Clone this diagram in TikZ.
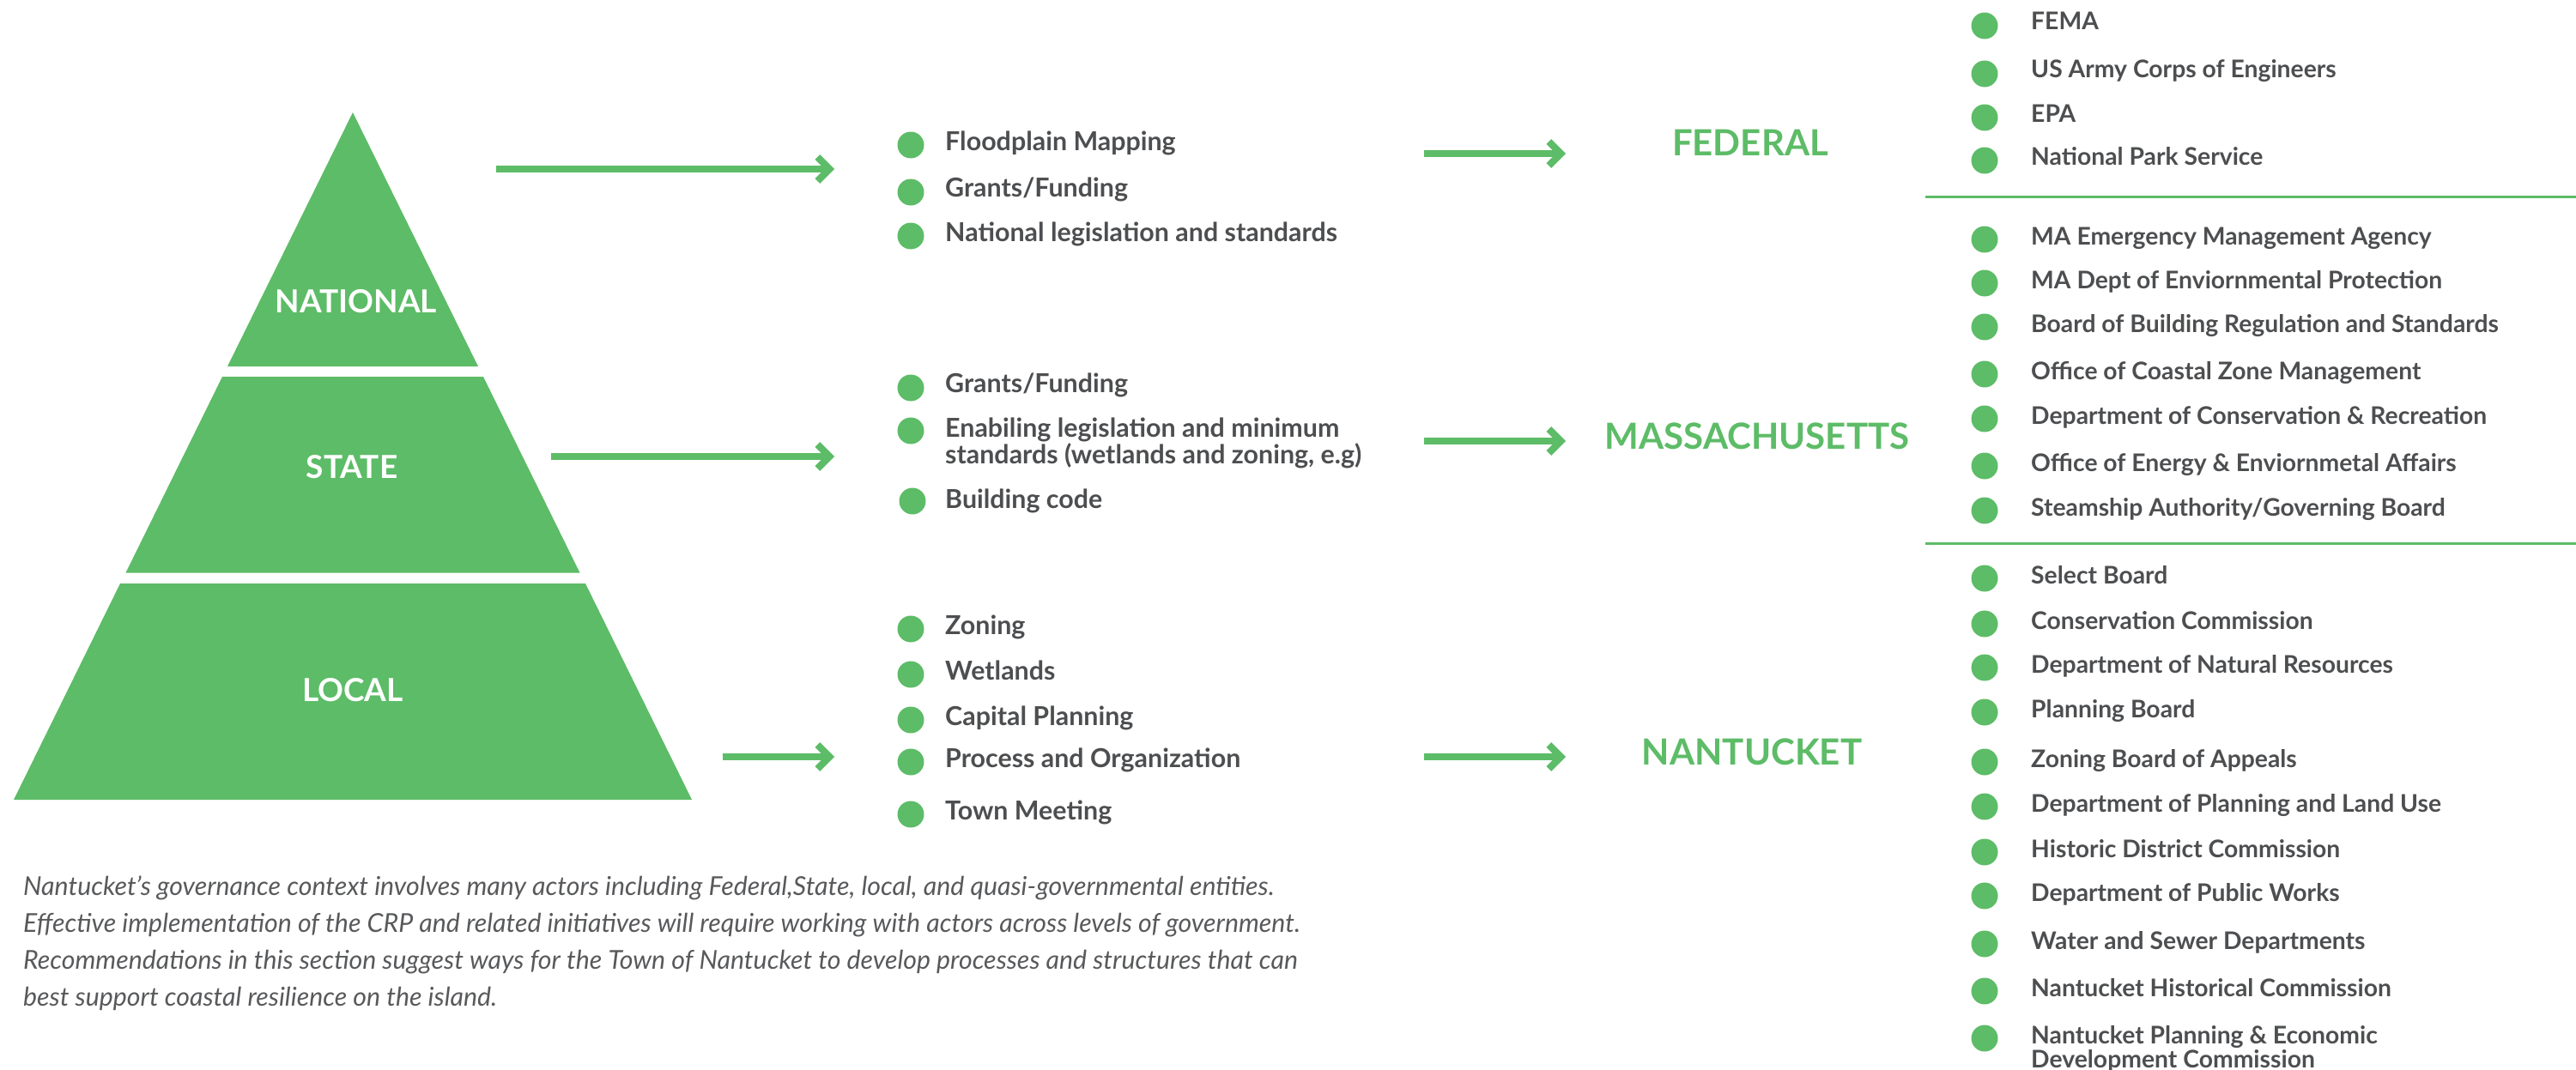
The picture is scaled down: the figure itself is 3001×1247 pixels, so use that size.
\documentclass[tikz,border=0pt]{standalone}
\usepackage{fontspec}
\setmainfont{Lato}
\usetikzlibrary{arrows.meta}
\definecolor{grn}{RGB}{93,188,103}
\definecolor{txt}{RGB}{77,78,80}
\definecolor{paratxt}{RGB}{88,89,91}
\begin{document}
\begin{tikzpicture}[x=1pt,y=-1pt,
  bul/.style={circle,fill=grn,minimum size=31pt,inner sep=0pt},
  litem/.style={anchor=base west,inner sep=0pt,text=txt,font=\fontsize{30.4}{28}\selectfont\bfseries,align=left},
  ritem/.style={anchor=base west,inner sep=0pt,text=txt,font=\fontsize{28.3}{28}\selectfont\bfseries,align=left},
  hdg/.style={anchor=base,text=grn,font=\fontsize{42}{42}\selectfont\bfseries,inner sep=0pt},
  lvl/.style={anchor=base,text=white,font=\fontsize{37}{37}\selectfont\bfseries,inner sep=0pt},
  arr/.style={draw=grn,line width=8pt,-{Straight Barb[length=14pt,width=28pt]}},
  sepline/.style={draw=grn,line width=3pt},
]
\path[use as bounding box] (0,0) rectangle (3001,1247);

% pyramid
\fill[grn] (411,131) -- (557,427) -- (265,427) -- cycle;
\fill[grn] (259,439) -- (563,439) -- (675.5,667.5) -- (146.5,667.5) -- cycle;
\fill[grn] (140,680) -- (682,680) -- (806,932) -- (16,932) -- cycle;
\node[lvl] (lnat) at (415,364) {NATIONAL};
\node[lvl] (lsta) at (410,557) {STATE};
\node[lvl] (lloc) at (411,817) {LOCAL};

% arrows from pyramid to lists
\coordinate (a1s) at (578,197);  \coordinate (a1e) at (972,197);
\coordinate (a2s) at (642,532);  \coordinate (a2e) at (972,532);
\coordinate (a3s) at (842,882);  \coordinate (a3e) at (972,882);
\draw[arr] (a1s) -- (a1e);
\draw[arr] (a2s) -- (a2e);
\draw[arr] (a3s) -- (a3e);

% arrows from lists to headings
\coordinate (b1s) at (1659,179); \coordinate (b1e) at (1824,179);
\coordinate (b2s) at (1659,514); \coordinate (b2e) at (1824,514);
\coordinate (b3s) at (1659,882); \coordinate (b3e) at (1824,882);
\draw[arr] (b1s) -- (b1e);
\draw[arr] (b2s) -- (b2e);
\draw[arr] (b3s) -- (b3e);

% headings
\node[hdg] (hfed) at (2039,181) {FEDERAL};
\node[hdg] (hma) at (2047,523) {MASSACHUSETTS};
\node[hdg] (hnan) at (2041,891) {NANTUCKET};

% left lists
\node[bul] (nb1) at (1061,169) {}; \node[litem] (nt1) at (1101,175) {Floodplain Mapping};
\node[bul] (nb2) at (1061,224) {}; \node[litem] (nt2) at (1101,229) {Grants/Funding};
\node[bul] (nb3) at (1061,275) {}; \node[litem] (nt3) at (1101,281) {National legislation and standards};

\node[bul] (sb1) at (1061,452) {}; \node[litem] (st1) at (1101,457) {Grants/Funding};
\node[bul] (sb2) at (1061,502) {}; \node[litem] (st2) at (1101,540) {Enabiling legislation and minimum\\standards (wetlands and zoning, e.g)};
\node[bul] (sb3) at (1063,584) {}; \node[litem] (st3) at (1101,592) {Building code};

\node[bul] (lb1) at (1061,733) {}; \node[litem] (lt1) at (1101,739) {Zoning};
\node[bul] (lb2) at (1061,786) {}; \node[litem] (lt2) at (1101,792) {Wetlands};
\node[bul] (lb3) at (1061,839) {}; \node[litem] (lt3) at (1101,845) {Capital Planning};
\node[bul] (lb4) at (1061,888) {}; \node[litem] (lt4) at (1101,894) {Process and Organization};
\node[bul] (lb5) at (1061,949) {}; \node[litem] (lt5) at (1101,955) {Town Meeting};

% right column
\node[bul] (fb1) at (2312,30) {};  \node[ritem] (ft1) at (2366,35) {FEMA};
\node[bul] (fb2) at (2312,86) {};  \node[ritem] (ft2) at (2366,91) {US Army Corps of Engineers};
\node[bul] (fb3) at (2312,137) {}; \node[ritem] (ft3) at (2366,142) {EPA};
\node[bul] (fb4) at (2312,187) {}; \node[ritem] (ft4) at (2366,192) {National Park Service};
\coordinate (s1a) at (2243,229); \coordinate (s1b) at (3001,229);
\draw[sepline] (s1a) -- (s1b);

\node[bul] (mb1) at (2312,279) {}; \node[ritem] (mt1) at (2366,285) {MA Emergency Management Agency};
\node[bul] (mb2) at (2312,330) {}; \node[ritem] (mt2) at (2366,336) {MA Dept of Enviornmental Protection};
\node[bul] (mb3) at (2312,381) {}; \node[ritem] (mt3) at (2366,387) {Board of Building Regulation and Standards};
\node[bul] (mb4) at (2312,436) {}; \node[ritem] (mt4) at (2366,442) {Office of Coastal Zone Management};
\node[bul] (mb5) at (2312,488) {}; \node[ritem] (mt5) at (2366,494) {Department of Conservation \& Recreation};
\node[bul] (mb6) at (2312,543) {}; \node[ritem] (mt6) at (2366,549) {Office of Energy \& Enviornmetal Affairs};
\node[bul] (mb7) at (2312,595) {}; \node[ritem] (mt7) at (2366,601) {Steamship Authority/Governing Board};
\coordinate (s2a) at (2243,633); \coordinate (s2b) at (3001,633);
\draw[sepline] (s2a) -- (s2b);

\node[bul] (kb1) at (2312,674) {};  \node[ritem] (kt1) at (2366,680) {Select Board};
\node[bul] (kb2) at (2312,727) {};  \node[ritem] (kt2) at (2366,733) {Conservation Commission};
\node[bul] (kb3) at (2312,778) {};  \node[ritem] (kt3) at (2366,784) {Department of Natural Resources};
\node[bul] (kb4) at (2312,830) {};  \node[ritem] (kt4) at (2366,836) {Planning Board};
\node[bul] (kb5) at (2312,888) {};  \node[ritem] (kt5) at (2366,894) {Zoning Board of Appeals};
\node[bul] (kb6) at (2312,940) {};  \node[ritem] (kt6) at (2366,946) {Department of Planning and Land Use};
\node[bul] (kb7) at (2312,993) {};  \node[ritem] (kt7) at (2366,999) {Historic District Commission};
\node[bul] (kb8) at (2312,1044) {}; \node[ritem] (kt8) at (2366,1050) {Department of Public Works};
\node[bul] (kb9) at (2312,1100) {}; \node[ritem] (kt9) at (2366,1106) {Water and Sewer Departments};
\node[bul] (kb10) at (2312,1155) {}; \node[ritem] (kt10) at (2366,1161) {Nantucket Historical Commission};
\node[bul] (kb11) at (2312,1210) {}; \node[ritem] (kt11) at (2366,1244) {Nantucket Planning \& Economic\\Development Commission};

% paragraph
\node[anchor=base west,inner sep=0pt,align=left,text=paratxt,font=\itshape\fontsize{30.3}{43}\selectfont] (para) at (27,1172)
{Nantucket’s governance context involves many actors including Federal,State, local, and quasi-governmental entities.\\
Effective implementation of the CRP and related initiatives will require working with actors across levels of government.\\
Recommendations in this section suggest ways for the Town of Nantucket to develop processes and structures that can\\
best support coastal resilience on the island.};
\end{tikzpicture}
\end{document}
